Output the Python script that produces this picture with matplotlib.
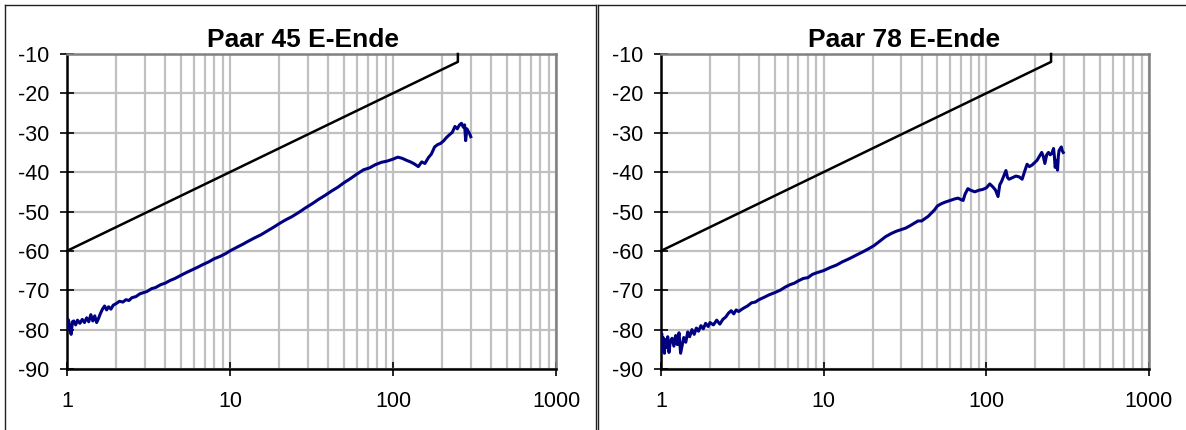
import matplotlib
matplotlib.use("Agg")
import matplotlib.pyplot as plt
from matplotlib.lines import Line2D
from matplotlib.ticker import FixedLocator, FixedFormatter, LogLocator, NullFormatter

plt.rcParams['font.family'] = ['Liberation Sans', 'DejaVu Sans']

# ---------------- data ----------------
titles = ["Paar 45 E-Ende", "Paar 78 E-Ende"]

limit_f = [1, 250, 250]
limit_db = [-60, -12, -10]

f45 = [1.00, 1.02, 1.04, 1.06, 1.08, 1.10, 1.13, 1.16, 1.20, 1.24, 1.28, 1.32, 1.36, 1.40,
       1.44, 1.48, 1.52, 1.56, 1.60, 1.65, 1.70, 1.75, 1.80, 1.86, 1.92, 2.0, 2.1, 2.2,
       2.3, 2.4, 2.5, 2.65, 2.8, 2.95, 3.1, 3.3, 3.5, 3.75, 4.0, 4.3, 4.6, 5.0, 5.4, 5.8,
       6.3, 6.8, 7.4, 8.0, 8.7, 9.4, 10, 11, 12, 13, 14, 15.5, 17, 18.5, 20, 22, 24,
       26.5, 29, 32, 35, 38, 42, 46, 50, 55, 60, 66, 72, 78, 85, 92, 100, 107, 114, 121,
       128, 135, 143, 150, 157, 165, 172, 180, 188, 196, 205, 213, 222, 231, 240, 248,
       256, 263, 270, 275, 279, 284, 290, 295, 300]
db45 = [-80.0, -77.5, -79.5, -81.2, -78.0, -77.8, -78.8, -77.6, -78.4, -77.4, -78.2, -77.0, -78.0, -76.2,
        -77.8, -76.5, -78.2, -77.2, -76.0, -74.8, -74.0, -75.0, -74.2, -74.8, -73.8, -73.4, -72.8, -73.0,
        -72.4, -72.6, -71.9, -71.6, -70.9, -70.6, -70.3, -69.6, -69.3, -68.6, -68.2, -67.5, -67.0, -66.2, -65.5, -64.9,
        -64.2, -63.5, -62.8, -62.0, -61.4, -60.7, -60.0, -59.1, -58.3, -57.5, -56.8, -55.9, -54.9, -54.0, -53.1, -52.1, -51.3,
        -50.2, -49.1, -48.0, -46.9, -46.0, -44.8, -43.8, -42.7, -41.6, -40.5, -39.4, -38.9, -38.1, -37.5, -37.2, -36.7, -36.2, -36.5, -37.0,
        -37.4, -37.9, -38.6, -37.4, -37.8, -36.3, -35.4, -33.6, -33.0, -32.7, -32.0, -31.2, -30.5, -29.9, -28.4, -29.0,
        -28.0, -27.6, -28.6, -28.0, -32.0, -29.0, -29.7, -30.2, -31.0]

f78 = [1.00, 1.01, 1.02, 1.03, 1.05, 1.06, 1.08, 1.10, 1.12, 1.14, 1.17, 1.20, 1.23, 1.26,
       1.29, 1.32, 1.35, 1.38, 1.42, 1.46, 1.50, 1.55, 1.60, 1.65, 1.70, 1.76, 1.82, 1.88,
       1.95, 2.0, 2.1, 2.2, 2.3, 2.4, 2.5, 2.6, 2.7, 2.8, 2.9, 3.0, 3.2, 3.4, 3.6, 3.8,
       4.0, 4.3, 4.6, 5.0, 5.4, 5.8, 6.2, 6.6, 7.0, 7.5, 8.0, 8.5, 9.0, 10, 11, 12, 13,
       14, 15, 16, 17.5, 19, 20.5, 22, 24, 26, 28, 30, 32, 34, 36, 38, 40, 42, 44, 46,
       48, 50, 53, 56, 60, 64, 67, 70, 72, 74, 77, 80, 85, 90, 95, 100, 105, 110, 114,
       118, 121, 124, 128, 132, 135, 138, 145, 152, 159, 166, 172, 178, 184, 191, 198,
       205, 212, 219, 224, 229, 235, 241, 247, 253, 259, 262, 265, 270, 274, 277, 280,
       285, 289, 293, 297]
db78 = [-84.0, -81.0, -85.5, -82.0, -86.0, -82.5, -84.5, -81.8, -85.8, -83.0, -82.2, -84.2, -81.5, -83.8,
        -80.8, -86.0, -84.0, -82.0, -83.2, -80.6, -81.8, -80.0, -81.2, -79.6, -80.4, -79.0, -79.8, -78.4,
        -79.2, -78.2, -78.8, -77.6, -78.6, -77.4, -76.8, -75.8, -75.2, -76.0, -75.0, -75.4, -74.6, -74.0, -73.2, -73.0,
        -72.4, -71.8, -71.2, -70.6, -70.0, -69.2, -68.6, -68.2, -67.6, -67.0, -66.8, -66.0, -65.6, -65.0, -64.2, -63.6, -62.8,
        -62.2, -61.6, -61.0, -60.2, -59.4, -58.6, -57.6, -56.4, -55.6, -55.0, -54.6, -54.2, -53.6, -53.0, -52.4, -52.4, -51.8, -51.2, -50.4,
        -49.6, -48.6, -48.0, -47.6, -47.2, -46.8, -46.6, -47.0, -47.2, -45.6, -44.2, -44.6, -45.0, -44.6, -44.4, -44.0, -43.0, -43.8, -44.6,
        -46.2, -43.2, -42.4, -41.0, -39.6, -41.4, -41.8, -41.4, -41.0, -41.2, -41.8, -39.8, -38.0, -38.6, -38.2, -37.6,
        -37.0, -36.0, -35.0, -36.0, -37.8, -35.6, -35.0, -35.6, -35.2, -34.0, -36.0, -38.8, -37.0, -39.5, -36.0, -34.5,
        -34.0, -33.6, -34.6, -35.0]

x_ticks = [1, 10, 100, 1000]
x_labels = ["1", "10", "100", "1000"]
y_ticks = [-90, -80, -70, -60, -50, -40, -30, -20, -10]
y_labels = ["-90", "-80", "-70", "-60", "-50", "-40", "-30", "-20", "-10"]

assert len(f45) == len(db45) and len(f78) == len(db78)

# ---------------- figure ----------------
W, H = 1186, 430
fig = plt.figure(figsize=(W / 100, H / 100), dpi=100)

def fx(px):
    return px / W

def fy(py):
    return 1 - py / H

axes_px = [(67, 556), (661, 1149)]
title_cx = [303, 904.5]
series = [(f45, db45), (f78, db78)]

for i, ((x0, x1), (fr, db)) in enumerate(zip(axes_px, series)):
    ax = fig.add_axes([fx(x0), fy(369), fx(x1 - x0), (369 - 54) / H])
    ax.set_xscale('log')
    ax.set_xlim(1, 1000)
    ax.set_ylim(-90, -10)
    ax.xaxis.set_major_locator(FixedLocator(x_ticks))
    ax.xaxis.set_major_formatter(FixedFormatter(x_labels))
    ax.xaxis.set_minor_locator(LogLocator(base=10, subs=[2, 3, 4, 5, 6, 7, 8, 9]))
    ax.xaxis.set_minor_formatter(NullFormatter())
    ax.yaxis.set_major_locator(FixedLocator(y_ticks))
    ax.yaxis.set_major_formatter(FixedFormatter(y_labels))
    ax.grid(True, which='both', axis='x', color='#c0c0c0', linewidth=1.6)
    ax.grid(True, which='major', axis='y', color='#c0c0c0', linewidth=1.6)
    ax.set_axisbelow(True)
    ax.tick_params(axis='both', which='major', direction='inout', length=10, width=1.2,
                   color='black', labelsize=15.5, labelcolor='black')
    ax.tick_params(axis='y', pad=7.5)
    ax.tick_params(axis='x', pad=10.5)
    ax.tick_params(axis='x', which='minor', length=0)
    for s in ['left', 'bottom']:
        ax.spines[s].set_color('black')
        ax.spines[s].set_linewidth(1.8)
    for s in ['top', 'right']:
        ax.spines[s].set_color('#808080')
        ax.spines[s].set_linewidth(1.8)
    ax.plot(limit_f, limit_db, color='black', linewidth=1.8, zorder=3, clip_on=False)
    ax.plot(fr, db, color='#000080', linewidth=2.2, zorder=4)
    fig.text(fx(title_cx[i]), fy(47), titles[i], ha='center', va='baseline',
             fontsize=19, fontweight='bold')

# chart area borders
bc = '#202020'
fig.add_artist(Line2D([fx(4.5), fx(4.5)], [0, fy(4.5)], color=bc, linewidth=1.0))
fig.add_artist(Line2D([fx(4.5), fx(595.5)], [fy(4.5), fy(4.5)], color=bc, linewidth=1.0))
fig.add_artist(Line2D([fx(595.5), fx(595.5)], [0, fy(4.5)], color=bc, linewidth=1.0))
fig.add_artist(Line2D([fx(598), fx(598)], [0, fy(4.5)], color=bc, linewidth=1.0))
fig.add_artist(Line2D([fx(598), 1], [fy(4.5), fy(4.5)], color=bc, linewidth=1.0))

fig.savefig("out.png", dpi=100)
